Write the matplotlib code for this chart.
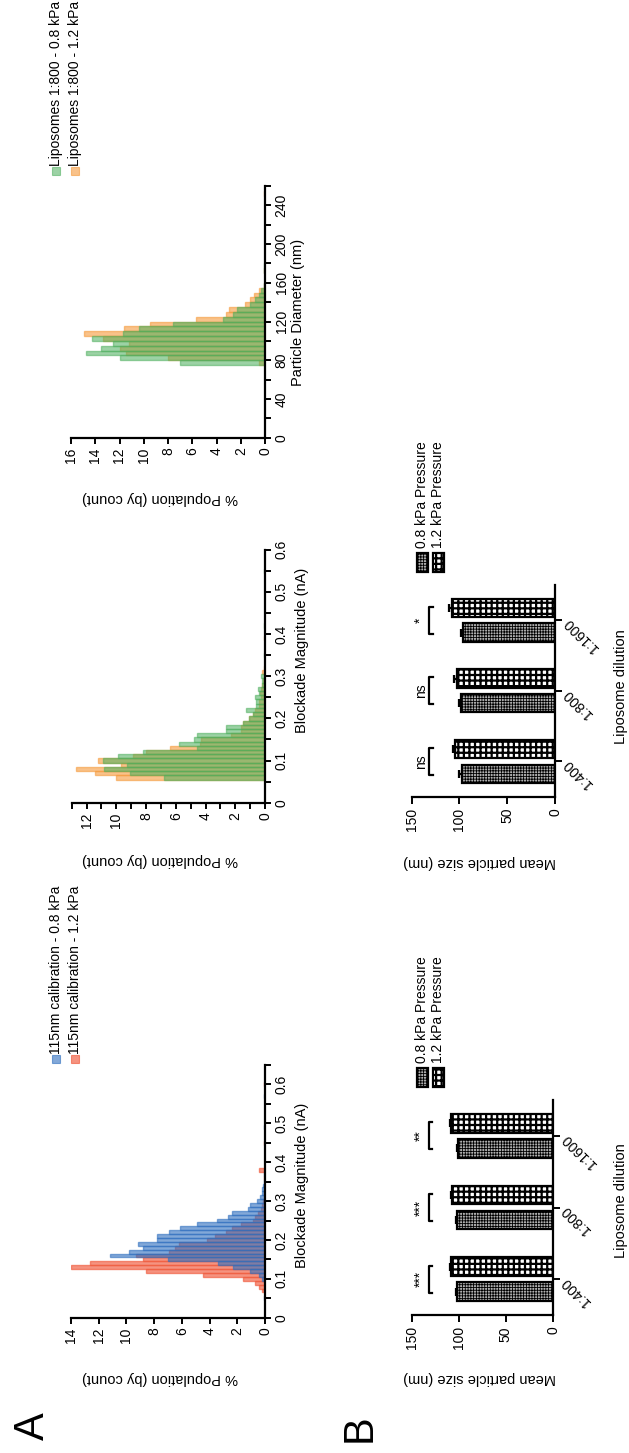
import numpy as np
import matplotlib as mpl
import matplotlib.pyplot as plt
from matplotlib.patches import Rectangle

plt.rcParams['font.family'] = ['Liberation Sans', 'DejaVu Sans']

# ---- data ----
# A1: 115 nm calibration, blockade magnitude (nA) -> % population
cal08_bins = [0.05, 0.10, 0.11, 0.12, 0.13, 0.14, 0.15, 0.16, 0.17, 0.18, 0.19, 0.20, 0.21,
              0.22, 0.23, 0.24, 0.25, 0.26, 0.27, 0.28, 0.29, 0.30, 0.31, 0.32, 0.33, 0.34,
              0.35, 0.37, 0.49, 0.57]
cal08_pct = [0.05, 0.2, 0.4, 1.1, 2.3, 3.4, 7.0, 11.2, 9.8, 8.8, 9.2, 7.8, 7.8,
             6.9, 6.1, 4.9, 3.5, 2.7, 2.4, 1.2, 1.1, 0.6, 0.35, 0.25, 0.2, 0.15,
             0.1, 0.05, 0.1, 0.1]
cal12_bins = [0.07, 0.08, 0.09, 0.10, 0.11, 0.12, 0.13, 0.14, 0.15, 0.16, 0.17, 0.18, 0.19,
              0.20, 0.21, 0.22, 0.23, 0.24, 0.25, 0.26, 0.27, 0.28, 0.29, 0.30, 0.31, 0.32,
              0.36, 0.38, 0.45, 0.60]
cal12_pct = [0.2, 0.4, 0.7, 1.6, 4.5, 8.6, 14.0, 12.6, 8.8, 9.3, 6.9, 6.5, 6.2,
             4.2, 3.6, 2.8, 2.4, 1.7, 0.9, 0.7, 0.5, 0.3, 0.2, 0.15, 0.1, 0.1,
             0.1, 0.4, 0.1, 0.1]

# A2: liposomes 1:800, blockade magnitude (nA)
lip08_bins = [0.06, 0.07, 0.08, 0.09, 0.10, 0.11, 0.12, 0.13, 0.14, 0.15, 0.16, 0.17, 0.18,
              0.19, 0.20, 0.21, 0.22, 0.23, 0.24, 0.25, 0.26, 0.27, 0.28, 0.29, 0.30, 0.35,
              0.42, 0.55]
lip08_pct = [6.8, 9.1, 10.8, 9.3, 10.9, 9.9, 8.2, 4.6, 5.8, 4.8, 4.6, 2.6, 2.6,
             1.5, 1.1, 0.8, 1.3, 0.6, 0.6, 0.7, 0.4, 0.45, 0.2, 0.2, 0.25, 0.1,
             0.1, 0.1]
lip12_bins = [0.06, 0.07, 0.08, 0.09, 0.10, 0.11, 0.12, 0.13, 0.14, 0.15, 0.16, 0.17, 0.18,
              0.19, 0.20, 0.21, 0.22, 0.23, 0.24, 0.25, 0.26, 0.27, 0.28, 0.29, 0.31, 0.32,
              0.39]
lip12_pct = [10.0, 11.4, 12.7, 9.7, 11.2, 8.9, 8.0, 6.4, 4.4, 4.3, 2.3, 1.6, 1.6,
             1.5, 1.1, 0.8, 0.7, 0.4, 0.4, 0.3, 0.35, 0.3, 0.2, 0.15, 0.2, 0.1,
             0.1]

# A3: liposomes 1:800, particle diameter (nm)
dia08_bins = [77.5, 82.5, 87.5, 92.5, 97.5, 102.5, 107.5, 112.5, 117.5, 122.5, 127.5, 132.5,
              137.5, 142.5, 147.5, 152.5, 157.5, 172.5, 177.5]
dia08_pct = [7.0, 12.0, 14.8, 13.5, 12.5, 14.3, 11.7, 10.4, 7.6, 3.5, 2.6, 2.3,
             1.2, 0.8, 0.5, 0.3, 0.1, 0.1, 0.1]
dia12_bins = [77.5, 82.5, 87.5, 92.5, 97.5, 102.5, 107.5, 112.5, 117.5, 122.5, 127.5, 132.5,
              137.5, 142.5, 147.5, 152.5, 157.5, 172.5, 252.5]
dia12_pct = [0.5, 8.0, 11.5, 12.0, 11.2, 13.4, 14.9, 11.6, 9.5, 5.7, 3.2, 3.0,
             1.65, 1.2, 0.9, 0.5, 0.1, 0.1, 0.1]

# B: mean particle size (nm) by liposome dilution
dilutions = ['1:400', '1:800', '1:1600']
b1_08 = [102, 101.5, 100.5]
b1_08_err = [1.0, 1.0, 1.5]
b1_12 = [108, 107, 108.5]
b1_12_err = [1.0, 1.0, 1.0]
b1_sig = ['***', '***', '**']
b2_08 = [97, 98.8, 96]
b2_08_err = [3.0, 1.5, 2.0]
b2_12 = [105, 103, 107.5]
b2_12_err = [2.0, 2.5, 3.0]
b2_sig = ['ns', 'ns', '*']

# ---- figure (drawn rotated: original x axis runs upward) ----
W, H = 629, 1453
fig = plt.figure(figsize=(W / 100, H / 100), dpi=100)


def add_ax(left, right, top, bottom):
    return fig.add_axes([left / W, 1 - bottom / H, (right - left) / W, (bottom - top) / H])


def style(ax):
    for s in ['top', 'left']:
        ax.spines[s].set_visible(False)
    for s in ['right', 'bottom']:
        ax.spines[s].set_linewidth(1.6)
    ax.yaxis.tick_right()
    ax.tick_params(direction='out', width=1.4, length=4, labelsize=10, pad=3)
    for lab in ax.get_xticklabels():
        lab.set_rotation(90)


def ftext(x, y, s, **kw):
    fig.text(x / W, 1 - y / H, s, **kw)


blue, red = '#2f6fbf', '#f05a3c'
green, orange = '#4cae5c', '#f59a3c'


def hist(ax, bins, pct, width, color, alpha):
    ax.barh(bins, pct, height=width, color=color, alpha=alpha,
            edgecolor=color, linewidth=1.0)


# A1
ax1 = add_ax(71, 265, 1065, 1317.7)
hist(ax1, cal12_bins, cal12_pct, 0.01, red, 0.65)
hist(ax1, cal08_bins, cal08_pct, 0.01, blue, 0.6)
ax1.set_xlim(14, 0)
ax1.set_ylim(0, 0.65)
ax1.set_xticks([0, 2, 4, 6, 8, 10, 12, 14])
ax1.set_yticks(np.arange(0, 0.651, 0.05))
ax1.set_yticklabels(['0', '', '0.1', '', '0.2', '', '0.3', '', '0.4', '', '0.5', '', '0.6', ''],
                    rotation=90, va='center')
style(ax1)

# A2
ax2 = add_ax(71.7, 265, 549.6, 802.8)
hist(ax2, lip12_bins, lip12_pct, 0.01, orange, 0.6)
hist(ax2, lip08_bins, lip08_pct, 0.01, green, 0.55)
ax2.set_xlim(13, 0)
ax2.set_ylim(0, 0.6)
ax2.set_xticks(range(0, 14))
ax2.set_xticklabels(['0', '', '2', '', '4', '', '6', '', '8', '', '10', '', '12', ''])
ax2.set_yticks(np.arange(0, 0.601, 0.05))
ax2.set_yticklabels(['0', '', '0.1', '', '0.2', '', '0.3', '', '0.4', '', '0.5', '', '0.6'],
                    rotation=90, va='center')
style(ax2)

# A3
ax3 = add_ax(71, 265, 186, 437.8)
hist(ax3, dia12_bins, dia12_pct, 5, orange, 0.6)
hist(ax3, dia08_bins, dia08_pct, 5, green, 0.55)
ax3.set_xlim(16, 0)
ax3.set_ylim(0, 260)
ax3.set_xticks(range(0, 17, 2))
ax3.set_yticks(range(0, 261, 20))
ax3.set_yticklabels([str(v) if v % 40 == 0 else '' for v in range(0, 261, 20)],
                    rotation=90, va='center')
style(ax3)

lab_kw = dict(fontsize=10.5, ha='center', va='center')
ftext(302, 1185, 'Blockade Magnitude (nA)', rotation=90, **lab_kw)
ftext(302, 650, 'Blockade Magnitude (nA)', rotation=90, **lab_kw)
ftext(298, 312, 'Particle Diameter (nm)', rotation=90, **lab_kw)
for y in [1378, 860, 498]:
    ftext(160, y, '% Population (by count)', rotation=180, **lab_kw)

# A legends
for x, c, a, t in [(56, blue, 0.6, '115nm calibration - 0.8 kPa'),
                   (75, red, 0.65, '115nm calibration - 1.2 kPa')]:
    fig.add_artist(Rectangle(((x - 4) / W, 1 - 1063 / H), 8 / W, 8 / H, transform=fig.transFigure,
                             facecolor=c, alpha=a, edgecolor=c, lw=0.8))
    ftext(x, 1054, t, rotation=90, fontsize=10, ha='center', va='bottom')
for x, c, a, t in [(56, green, 0.55, 'Liposomes 1:800 - 0.8 kPa'),
                   (75, orange, 0.6, 'Liposomes 1:800 - 1.2 kPa')]:
    fig.add_artist(Rectangle(((x - 4) / W, 1 - 175 / H), 8 / W, 8 / H, transform=fig.transFigure,
                             facecolor=c, alpha=a, edgecolor=c, lw=0.8))
    ftext(x, 166, t, rotation=90, fontsize=10, ha='center', va='bottom')

# B bar charts
dot_hatch, chk_hatch = '++++++', '+++'
dot_face, dot_lw, chk_lw = '#b0b0b0', 0.6, 1.6


def bars(ax, v08, e08, v12, e12, sig):
    pos = np.arange(len(dilutions))
    with mpl.rc_context({'hatch.linewidth': dot_lw}):
        ax.barh(pos - 0.175, v08, height=0.26, facecolor=dot_face, edgecolor='black',
                hatch=dot_hatch, linewidth=1.6, zorder=2)
    with mpl.rc_context({'hatch.linewidth': chk_lw}):
        ax.barh(pos + 0.175, v12, height=0.26, facecolor='white', edgecolor='black',
                hatch=chk_hatch, linewidth=1.6, zorder=2)
    ax.errorbar(v08, pos - 0.175, xerr=[np.zeros(3), e08], fmt='none', ecolor='black',
                elinewidth=1.6, capsize=3, capthick=1.6, zorder=3)
    ax.errorbar(v12, pos + 0.175, xerr=[np.zeros(3), e12], fmt='none', ecolor='black',
                elinewidth=1.6, capsize=3, capthick=1.6, zorder=3)
    for p, s in zip(pos, sig):
        ax.plot([128, 132, 132, 128], [p - 0.19, p - 0.19, p + 0.19, p + 0.19],
                color='black', lw=1.6, clip_on=False)
        ax.text(141 if s != 'ns' else 140, p, s, rotation=90, ha='center', va='center',
                fontsize=10)
    ax.set_xlim(150, 0)
    ax.set_ylim(-0.5, 2.5)
    ax.set_xticks([0, 50, 100, 150])
    ax.set_yticks(pos)
    ax.set_yticklabels(dilutions)
    style(ax)
    ax.tick_params(length=5)
    for lab in ax.get_yticklabels():
        lab.set_rotation(135)
        lab.set_rotation_mode('anchor')
        lab.set_ha('right')
        lab.set_va('center')


bx1 = add_ax(411.7, 553, 1100, 1315)
bars(bx1, b1_08, b1_08_err, b1_12, b1_12_err, b1_sig)
bx2 = add_ax(411.7, 555, 585, 796.7)
bars(bx2, b2_08, b2_08_err, b2_12, b2_12_err, b2_sig)

ftext(621, 1201, 'Liposome dilution', rotation=90, **lab_kw)
ftext(621, 687, 'Liposome dilution', rotation=90, **lab_kw)
ftext(480, 1378, 'Mean particle size (nm)', rotation=180, **lab_kw)
ftext(480, 862, 'Mean particle size (nm)', rotation=180, **lab_kw)

# B legends
for ybot in [1087, 572]:
    for x, h, fc, lw, t in [(422, dot_hatch, dot_face, dot_lw, '0.8 kPa Pressure'),
                            (438.5, chk_hatch, 'white', chk_lw, '1.2 kPa Pressure')]:
        with mpl.rc_context({'hatch.linewidth': lw}):
            fig.add_artist(Rectangle(((x - 5.5) / W, 1 - ybot / H), 11 / W, 19 / H,
                                     transform=fig.transFigure, facecolor=fc,
                                     edgecolor='black', hatch=h, lw=1.6))
        ftext(x, ybot - 24, t, rotation=90, fontsize=10, ha='center', va='bottom')

ftext(33, 1426, 'A', rotation=90, fontsize=30, ha='center', va='center')
ftext(360, 1428, 'B', rotation=90, fontsize=30, ha='center', va='center')

fig.savefig('out.png', dpi=100)
